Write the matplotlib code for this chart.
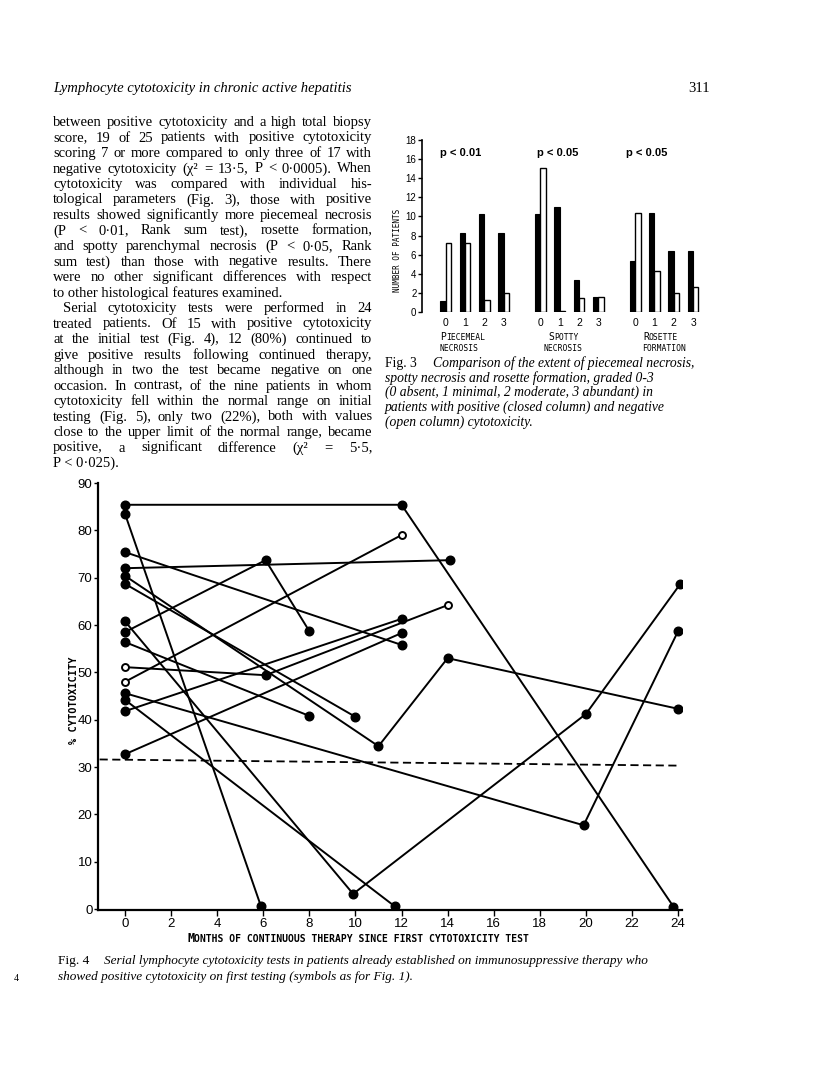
import matplotlib
matplotlib.use('Agg')
import matplotlib.pyplot as plt

W, H = 816, 1079

# page text
header = 'Lymphocyte cytotoxicity in chronic active hepatitis'
page_number = '311'
body_lines = [
    'between positive cytotoxicity and a high total biopsy',
    'score, 19 of 25 patients with positive cytotoxicity',
    'scoring 7 or more compared to only three of 17 with',
    'negative cytotoxicity (χ² = 13·5, P < 0·0005). When',
    'cytotoxicity was compared with individual his-',
    'tological parameters (Fig. 3), those with positive',
    'results showed significantly more piecemeal necrosis',
    '(P < 0·01, Rank sum test), rosette formation,',
    'and spotty parenchymal necrosis (P < 0·05, Rank',
    'sum test) than those with negative results. There',
    'were no other significant differences with respect',
    'to other histological features examined.',
    'Serial cytotoxicity tests were performed in 24',
    'treated patients. Of 15 with positive cytotoxicity',
    'at the initial test (Fig. 4), 12 (80%) continued to',
    'give positive results following continued therapy,',
    'although in two the test became negative on one',
    'occasion. In contrast, of the nine patients in whom',
    'cytotoxicity fell within the normal range on initial',
    'testing (Fig. 5), only two (22%), both with values',
    'close to the upper limit of the normal range, became',
    'positive, a significant difference (χ² = 5·5,',
    'P < 0·025).',
]
indented_lines = [12]
ragged_lines = [11, 22]

fig3_caption = [
    'Comparison of the extent of piecemeal necrosis,',
    'spotty necrosis and rosette formation, graded 0-3',
    '(0 absent, 1 minimal, 2 moderate, 3 abundant) in',
    'patients with positive (closed column) and negative',
    '(open column) cytotoxicity.',
]
fig4_caption = [
    'Serial lymphocyte cytotoxicity tests in patients already established on immunosuppressive therapy who',
    'showed positive cytotoxicity on first testing (symbols as for Fig. 1).',
]

# Fig. 3 : number of patients per grade 0-3
grades = ['0', '1', '2', '3']
group_names = [('PIECEMEAL', 'NECROSIS'), ('SPOTTY', 'NECROSIS'), ('ROSETTE', 'FORMATION')]
p_labels = ['p < 0.01', 'p < 0.05', 'p < 0.05']
closed_column = [[1.2, 8.3, 10.3, 8.3], [10.3, 11.0, 3.4, 1.6], [5.3, 10.4, 6.4, 6.4]]
open_column = [[7.2, 7.2, 1.3, 2.0], [15.1, 0.1, 1.5, 1.6], [10.4, 4.3, 2.0, 2.6]]

# Fig. 4 : serial tests, one list per patient
months = [
    [0, 12, 23.8],
    [0, 5.9],
    [0, 12],
    [0, 14.1],
    [0, 11, 14, 24],
    [0, 10],
    [0, 9.9, 20, 24.1],
    [0, 6.1, 8],
    [0, 8],
    [0, 6.1, 14],
    [0, 12],
    [0, 19.9, 24],
    [0, 11.7],
    [0, 12],
    [0, 12],
]
cytotoxicity = [
    [85.4, 85.4, 0.5],
    [83.5, 0.6],
    [75.4, 55.8],
    [72.0, 73.7],
    [70.4, 34.4, 53.0, 42.3],
    [68.7, 40.6],
    [60.8, 3.2, 41.2, 68.7],
    [58.5, 73.7, 58.7],
    [56.4, 40.8],
    [51.1, 49.4, 64.2],
    [48.0, 79.0],
    [45.6, 17.7, 58.7],
    [44.2, 0.6],
    [41.8, 61.3],
    [32.7, 58.3],
]
open_symbol = [
    [0, 0, 0], [0, 0], [0, 0], [0, 0], [0, 0, 0, 0], [0, 0], [0, 0, 0, 0],
    [0, 0, 0], [0, 0], [1, 0, 1], [1, 1], [0, 0, 0], [0, 0], [0, 0], [0, 0],
]
normal_months = [-1.1, 24.0]
normal_limit = [31.6, 30.3]

serif = 'Liberation Serif'
narrow = ['Liberation Sans Narrow', 'Liberation Sans']
mono = 'DejaVu Sans Mono'

fig = plt.figure(figsize=(W / 100, H / 100), dpi=100)
fig.patch.set_facecolor('white')
renderer = fig.canvas.get_renderer()


def put(x, y, s, **kw):
    # x, y in pixels from top-left, y is the baseline
    return fig.text(x / W, 1 - y / H, s, va=kw.pop('va', 'baseline'), **kw)


def width(t):
    return t.get_window_extent(renderer).width


def justified(s, x0, x1, y, **kw):
    words = s.split()
    objs = [put(0, y, w, **kw) for w in words]
    ws = [width(o) for o in objs]
    gap = (x1 - x0 - sum(ws)) / (len(words) - 1)
    x = x0
    for o, w in zip(objs, ws):
        o.set_x(x / W)
        x += w + gap


def caps(x, y, s, big, small, **kw):
    t = put(x, y, s[0], fontsize=big, **kw)
    put(x + width(t), y, s[1:], fontsize=small, **kw)


# header and body text
put(53, 92, header, fontsize=10.5, family=serif, style='italic')
put(688, 92, page_number, fontsize=10.5, family=serif)
for i, line in enumerate(body_lines):
    y = 126 + 15.5 * i
    x0 = 63 if i in indented_lines else 53
    if i in ragged_lines:
        put(x0, y, line, fontsize=10.5, family=serif)
    else:
        justified(line, x0, 372, y, fontsize=10.5, family=serif)

# Fig. 3 caption
put(385, 367, 'Fig. 3', fontsize=9.8, family=serif)
for i, line in enumerate(fig3_caption):
    put(433 if i == 0 else 385, 367 + 14.6 * i, line, fontsize=9.8,
        family=serif, style='italic')

# Fig. 4 caption
put(14, 981, '4', fontsize=7, family=serif)
put(58, 964, 'Fig. 4', fontsize=9.6, family=serif)
put(104, 964, fig4_caption[0], fontsize=9.5, family=serif, style='italic')
put(58, 980, fig4_caption[1], fontsize=9.5, family=serif, style='italic')

# ---- Fig. 3 bar chart ----
ax3 = fig.add_axes([422 / W, 1 - 312 / H, 290 / W, 172 / H])
bw = 0.28
for g in range(3):
    for k in range(4):
        x = 4.9 * g + k
        ax3.bar(x - bw / 2, closed_column[g][k], width=bw, color='black',
                edgecolor='black', linewidth=0.8)
        ax3.bar(x + bw / 2, open_column[g][k], width=bw, facecolor='white',
                edgecolor='black', linewidth=1.0)
        ax3.text(x, -1.15, grades[k], ha='center', va='center', fontsize=7.5,
                 family=narrow, clip_on=False)
ax3.set_xlim(-1.23, 13.78)
ax3.set_ylim(0, 18)
ax3.set_yticks(range(0, 19, 2))
ax3.set_xticks([])
for side in ['top', 'right', 'bottom']:
    ax3.spines[side].set_visible(False)
ax3.spines['left'].set_linewidth(1.2)
ax3.tick_params(axis='y', direction='out', length=3, width=1, pad=1, labelsize=7)
for lab in ax3.get_yticklabels():
    lab.set_family(narrow)
put(397, 250, 'NUMBER OF PATIENTS', fontsize=5.5, family=mono, rotation=90,
    ha='center', va='center')

group_x = [(440, 440), (548, 543), (643, 642)]
for (a, b), (xa, xb), p, xp in zip(group_names, group_x, p_labels, [440, 537, 626]):
    caps(xa, 340, a, 7, 5.8, family=mono)
    put(xb, 351, b, fontsize=5.8, family=mono)
    put(xp, 156, p, fontsize=8, family='Liberation Sans', weight='bold')

# ---- Fig. 4 serial tests ----
ax4 = fig.add_axes([98 / W, 1 - 910 / H, 584 / W, 427 / H])
for m, v, hollow in zip(months, cytotoxicity, open_symbol):
    ax4.plot(m, v, color='black', linewidth=1.4, zorder=2)
    for mi, vi, h in zip(m, v, hollow):
        if h:
            ax4.plot(mi, vi, 'o', markersize=5, markerfacecolor='white',
                     markeredgecolor='black', markeredgewidth=1.4, zorder=3)
        else:
            ax4.plot(mi, vi, 'o', markersize=6.2, color='black', zorder=3)
ax4.plot(normal_months, normal_limit, color='black', linewidth=1.3,
         linestyle=(0, (4.5, 2.5)))
ax4.set_xlim(-1.17, 24.17)
ax4.set_ylim(-0.2, 90)
ax4.set_xticks(range(0, 25, 2))
ax4.set_yticks(range(0, 91, 10))
for side in ['top', 'right']:
    ax4.spines[side].set_visible(False)
for side in ['left', 'bottom']:
    ax4.spines[side].set_linewidth(1.6)
ax4.tick_params(axis='x', direction='out', length=4, width=1, pad=2, labelsize=9.5)
ax4.tick_params(axis='y', direction='out', length=3, width=1, pad=1, labelsize=9.5)
for lab in ax4.get_xticklabels() + ax4.get_yticklabels():
    lab.set_family(narrow)
caps(187, 942, 'MONTHS OF CONTINUOUS THERAPY SINCE FIRST CYTOTOXICITY TEST',
     8.5, 7, family=mono, weight='bold')
put(74, 700, '% CYTOTOXICITY', fontsize=7.5, family=mono, weight='bold',
    rotation=90, ha='center', va='center')

fig.savefig('out.png', dpi=100, facecolor='white')
